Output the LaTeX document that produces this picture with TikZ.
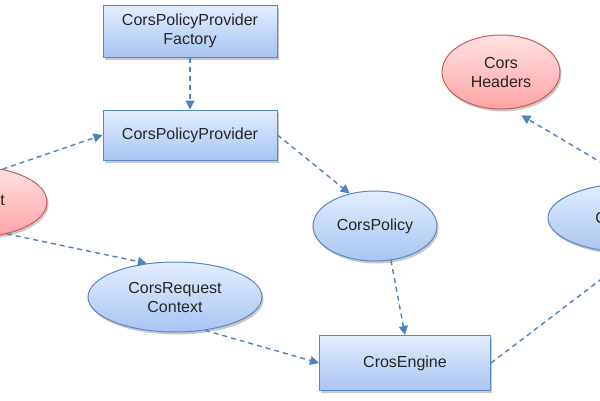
\documentclass[tikz,border=0pt]{standalone}
\usepackage{fontspec}
\setmainfont{Liberation Sans}
\usetikzlibrary{shapes.geometric,arrows.meta,shadows}
\definecolor{edgeblue}{HTML}{5A86C5}
\definecolor{bluetop}{HTML}{E3EDFD}
\definecolor{bluebot}{HTML}{A8C5F3}
\definecolor{edgered}{HTML}{C45E5B}
\definecolor{redtop}{HTML}{FFE1E1}
\definecolor{redbot}{HTML}{FFA4A4}
\definecolor{depblue}{HTML}{4F81BD}
\begin{document}
\begin{tikzpicture}[x=1pt,y=-1pt,
  font=\fontsize{16}{19}\selectfont,
  every node/.style={text=black!85,align=center,inner sep=0pt},
  softshadow/.style={drop shadow={shadow xshift=1.5pt,shadow yshift=-2.5pt,opacity=0.3,fill=black!70}},
  classbox/.style={rectangle,draw=edgeblue,line width=1pt,top color=bluetop,bottom color=bluebot,softshadow},
  blueoval/.style={ellipse,draw=edgeblue,line width=1pt,top color=bluetop,bottom color=bluebot,softshadow},
  redoval/.style={ellipse,draw=edgered,line width=1pt,top color=redtop,bottom color=redbot,softshadow},
  dep/.style={draw=depblue,line width=1.4pt,dash pattern=on 5pt off 4pt,-{Triangle[length=9pt,width=9pt]}}]
\useasboundingbox (0,0) rectangle (600,400);
\clip (0,0) rectangle (600,400);
% classes
\node [classbox,minimum width=174pt,minimum height=52pt] (fac) at (190,31) {CorsPolicyProvider\\Factory};
\node [classbox,minimum width=174pt,minimum height=50pt] (prov) at (190,135) {CorsPolicyProvider};
\node [classbox,minimum width=171pt,minimum height=55pt] (eng) at (405,363) {CrosEngine};
% ellipses
\node [redoval,minimum width=144pt,minimum height=70pt] (req) at (-25,202) {Request};
\node [blueoval,minimum width=124pt,minimum height=70pt] (pol) at (375,226) {CorsPolicy};
\node [blueoval,minimum width=174pt,minimum height=70pt] (ctx) at (175,297) {CorsRequest\\Context};
\node [redoval,minimum width=118pt,minimum height=74pt] (hdr) at (501,72) {Cors\\Headers};
\node [blueoval,minimum width=174pt,minimum height=70pt] (res) at (635,218) {CorsResult};
% dependencies
\draw [dep] (fac) -- (prov);
\draw [dep] (req.50) -- (prov.west);
\draw [dep] (req.-45) -- (ctx.130);
\draw [dep] (prov.east) -- (pol.128);
\draw [dep] (pol.-65) -- (eng.north);
\draw [dep] (ctx.-48) -- (eng.west);
\draw [dep] (eng.east) -- (res.south);
\draw [dep] (res.north) -- ([yshift=-8pt]hdr.-60);
\end{tikzpicture}
\end{document}
